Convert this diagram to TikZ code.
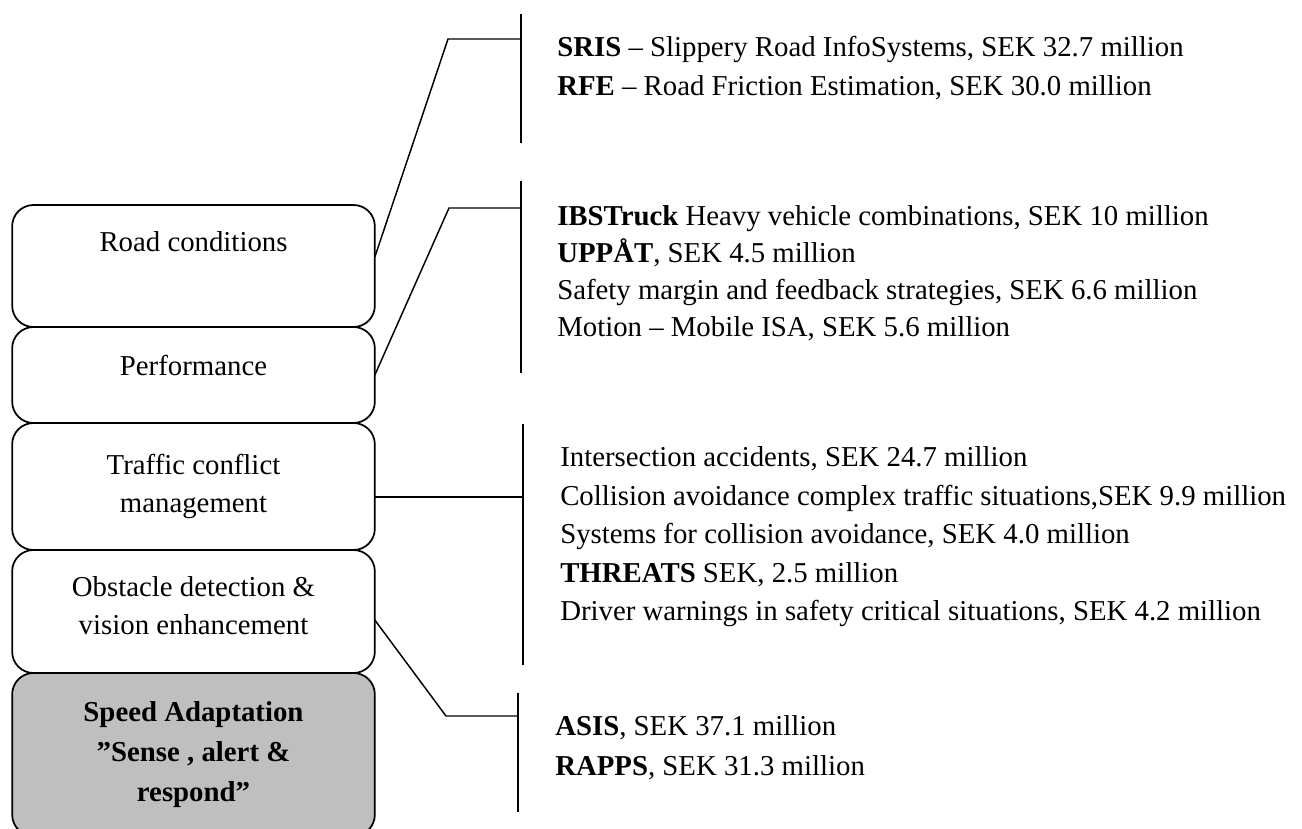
\documentclass[tikz,border=0pt]{standalone}
\usepackage{fontspec}
\setmainfont{Liberation Serif}
\usetikzlibrary{positioning}

\begin{document}
\begin{tikzpicture}[%
        x=0.75pt, y=-0.75pt,
        every node/.style={inner sep=0pt},
        areabox/.style={draw, line width=1.3pt, rounded corners=16pt, fill=white, outer sep=0pt,
          minimum width=272pt, align=center, font=\fontsize{21.6}{28}\selectfont},
        prjlist/.style={anchor=west, align=left, font=\fontsize{21.6}{#1}\selectfont},
        link/.style={line width=1.1pt}
      ]
      \useasboundingbox (0,0) rectangle (1302,828);
      % research areas, stacked
      \node [areabox, minimum height=91.5pt] (road) at (193.5,266) {Road conditions\\ \strut};
      \node [areabox, minimum height=72pt, text depth=15pt, below=0pt of road] (perf) {Performance};
      \node [areabox, minimum height=95.25pt, below=0pt of perf] (traffic) {Traffic conflict\\ management};
      \node [areabox, minimum height=92.25pt, text depth=9pt, below=0pt of traffic] (obst) {Obstacle detection \&\\ vision enhancement};
      \node [areabox, minimum height=122.25pt, fill=black!25, font=\fontsize{21.6}{30}\selectfont\bfseries, below=0pt of obst] (speed) {Speed Adaptation\\ ”Sense , alert \&\\ respond”};
      % projects
      \node [prjlist=29.25pt] (sris) at (557,68) {\textbf{SRIS} – Slippery Road InfoSystems, SEK 32.7 million\\ \textbf{RFE} – Road Friction Estimation, SEK 30.0 million};
      \node [prjlist=27.75pt] (ibs) at (557,273) {\textbf{IBSTruck} Heavy vehicle combinations, SEK 10 million\\ \textbf{UPPÅT}, SEK 4.5 million\\ Safety margin and feedback strategies, SEK 6.6 million\\ Motion – Mobile ISA, SEK 5.6 million};
      \node [prjlist=28.9pt] (isec) at (560,537) {Intersection accidents, SEK 24.7 million\\ Collision avoidance complex traffic situations,SEK 9.9 million\\ Systems for collision avoidance, SEK 4.0 million\\ \textbf{THREATS} SEK, 2.5 million\\ Driver warnings in safety critical situations, SEK 4.2 million};
      \node [prjlist=30pt] (asis) at (555,748) {\textbf{ASIS}, SEK 37.1 million\\ \textbf{RAPPS}, SEK 31.3 million};
      % brackets
      \coordinate (srisT) at (521,14);  \coordinate (srisB) at (521,143);
      \coordinate (ibsT) at (521,181);  \coordinate (ibsB) at (521,373);
      \coordinate (isecT) at (523,424); \coordinate (isecB) at (523,665);
      \coordinate (asisT) at (518,693); \coordinate (asisB) at (518,812);
      \coordinate (roadK) at (448,39);
      \coordinate (perfK) at (449,208);
      \coordinate (obstK) at (446,716);
      \draw [link] (srisT) -- (srisB);
      \draw [link] (ibsT) -- (ibsB);
      \draw [link] (isecT) -- (isecB);
      \draw [link] (asisT) -- (asisB);
      \draw [link] ([yshift=6.75pt]road.east) -- (roadK) -- (roadK -| srisT);
      \draw [link] (perf.east) -- (perfK) -- (perfK -| ibsT);
      \draw [link] ([yshift=-7.9pt]traffic.east) -- ([yshift=-7.9pt]traffic.east -| isecT);
      \draw [link] ([yshift=-6.4pt]obst.east) -- (obstK) -- (obstK -| asisT);
    \end{tikzpicture}
\end{document}
